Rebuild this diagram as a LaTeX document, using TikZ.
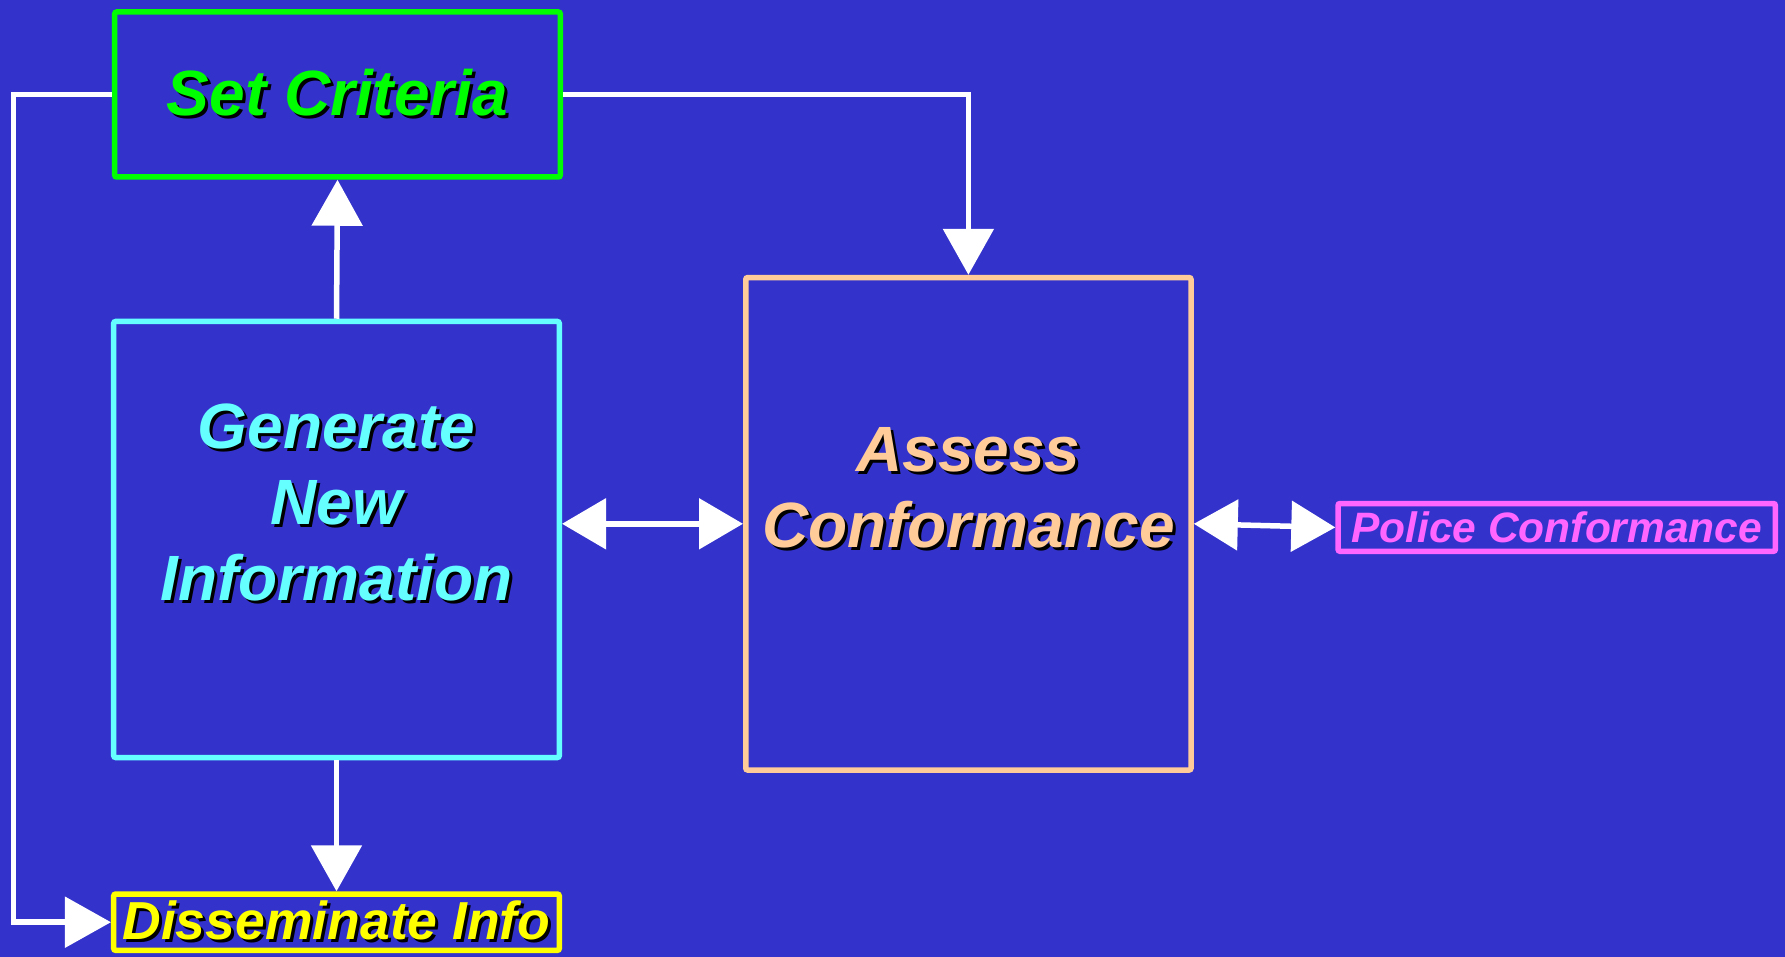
\documentclass[tikz,border=0pt]{standalone}
\usepackage{fontspec}
\setmainfont{Liberation Sans}
\usetikzlibrary{arrows.meta,positioning}

\definecolor{slideblue}{RGB}{51,51,204}
\definecolor{critgreen}{RGB}{0,255,0}
\definecolor{gencyan}{RGB}{102,255,255}
\definecolor{assesspeach}{RGB}{255,204,153}
\definecolor{policepink}{RGB}{255,102,255}
\definecolor{dissemyellow}{RGB}{255,255,0}

% black drop shadow behind a line of text
\newcommand\shadowed[1]{\makebox[0pt][l]{\kern3pt\raisebox{-3pt}{\color{black}#1}}#1}

\tikzset{
  basic/.style  = {draw, rectangle, rounded corners=2pt, line width=5.5pt,
                   inner sep=0pt, align=center,
                   font=\bfseries\itshape\fontsize{64}{76}\selectfont},
  crit/.style   = {basic, draw=critgreen, text=critgreen,
                   minimum width=445.6pt, minimum height=165pt},
  gen/.style    = {basic, draw=gencyan, minimum width=445.6pt, minimum height=436pt},
  assess/.style = {basic, draw=assesspeach, minimum width=445.3pt, minimum height=492.5pt},
  police/.style = {basic, draw=policepink, text=policepink,
                   minimum width=437.3pt, minimum height=47.8pt,
                   font=\bfseries\itshape\fontsize{42.5}{48}\selectfont},
  dissem/.style = {basic, draw=dissemyellow, text=dissemyellow,
                   minimum width=445.6pt, minimum height=56.3pt,
                   font=\bfseries\itshape\fontsize{53.5}{60}\selectfont},
  words/.style  = {align=center, inner sep=0pt,
                   font=\bfseries\itshape\fontsize{64}{76}\selectfont},
  link/.style   = {draw=white, line width=5.5pt,
                   -{Triangle[length=46pt,width=50pt]}},
  twoway/.style = {link, {Triangle[length=44pt,width=50pt]}-{Triangle[length=44pt,width=50pt]}}
}

\begin{document}
\begin{tikzpicture}[x=1pt, y=-1pt]

\fill[slideblue] (0,0) rectangle (1785,957);
\useasboundingbox (0,0) rectangle (1785,957);

\node[crit]   (crit)   at (337.5,94.5)   {\shadowed{Set Criteria}};
\node[gen]    (gen)    at (336.5,539.5)  {};
\node[assess] (assess) at (968.4,523.8)  {};
\node[police] (police) at (1556.7,527.4) {Police Conformance};
\node[dissem] (dissem) at (336.5,922.2)  {\shadowed{Disseminate Info}};

\node[words, text=gencyan] (gentext) at ([yshift=35.5pt]gen.center)
  {\shadowed{Generate}\\\shadowed{New}\\\shadowed{Information}};
\node[words, text=assesspeach] (assesstext) at ([yshift=35pt]assess.center)
  {\shadowed{Assess}\\\shadowed{Conformance}};

\coordinate (loopx) at (13.7,0);

\draw[link] (crit.west) -- (crit.west -| loopx) |- (dissem.west);
\draw[link] (crit.east) -| (assess.north);
\draw[link] (gen.north) -- (crit.south);
\draw[link] (gen.south) -- (dissem.north);
\draw[twoway] (assess.west -| gen.east) -- (assess.west);
\draw[twoway] (assess.east) -- (police.west);

\end{tikzpicture}
\end{document}
